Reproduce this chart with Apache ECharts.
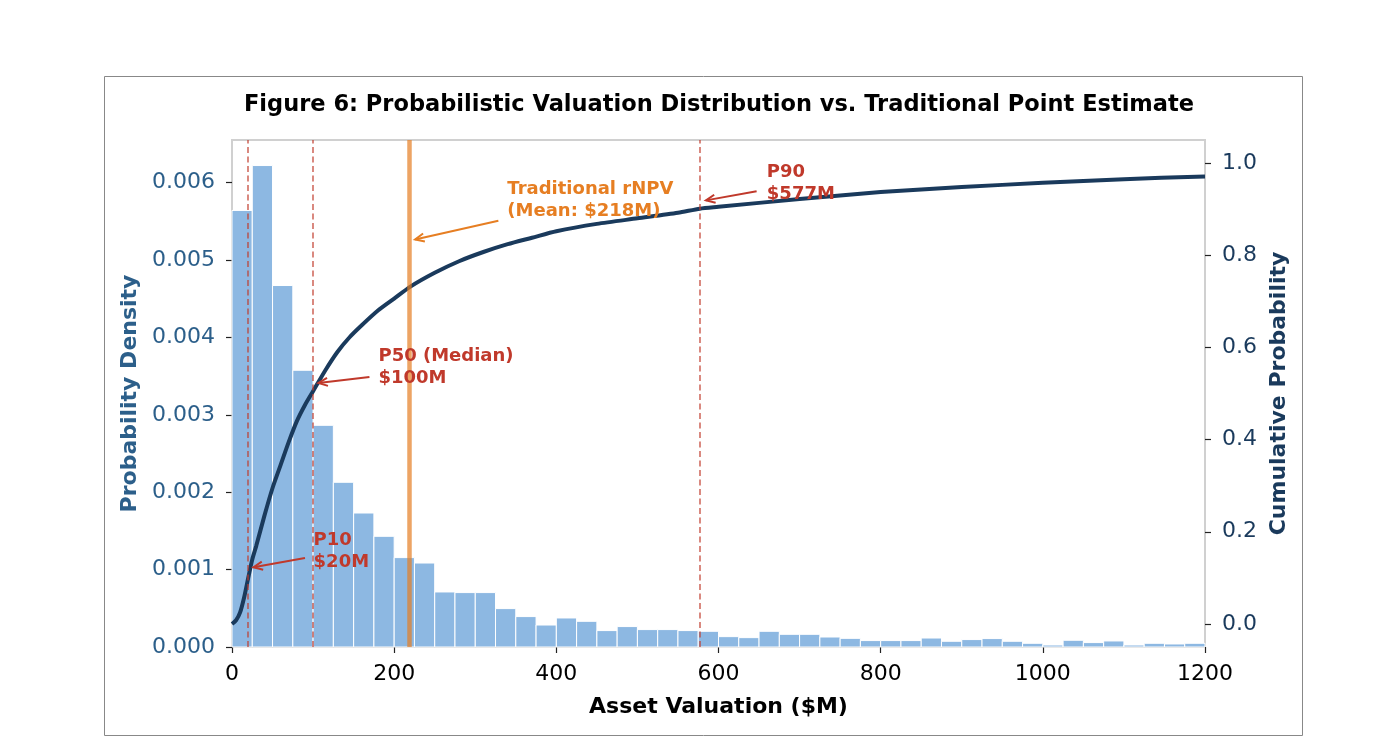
<!DOCTYPE html>
<html>
<head>
<meta charset="utf-8">
<script src="https://cdn.jsdelivr.net/npm/echarts@6/dist/echarts.min.js"></script>
<style>
  html, body { margin: 0; padding: 0; background: #fff; }
  #chart { width: 1400px; height: 736px; }
</style>
</head>
<body>
<div id="chart"></div>
<script>
// histogram bins (left edge, $M) - 25M wide
const binLeft = [0, 25, 50, 75, 100, 125, 150, 175, 200, 225, 250, 275, 300, 325, 350, 375,
  400, 425, 450, 475, 500, 525, 550, 575, 600, 625, 650, 675, 700, 725, 750, 775,
  800, 825, 850, 875, 900, 925, 950, 975, 1000, 1025, 1050, 1075, 1100, 1125, 1150, 1175];
const binWidth = 25;
// probability density per bin
const density = [0.00564, 0.00622, 0.00467, 0.003575, 0.002864, 0.002128, 0.001731, 0.00143,
  0.001155, 0.001085, 0.000711, 0.000703, 0.000703, 0.000496, 0.000393, 0.000284,
  0.000375, 0.000332, 0.000212, 0.000264, 0.000225, 0.000225, 0.000212, 0.000203,
  0.000134, 0.000121, 0.000203, 0.000164, 0.000164, 0.000129, 0.000112, 0.000083,
  0.000083, 0.000083, 0.000116, 0.000074, 0.000096, 0.000109, 0.000074, 0.000048,
  0.000026, 0.000087, 0.000057, 0.000078, 0.000026, 0.000048, 0.000039, 0.000048];

const cdfX = [0, 5, 10, 15, 20, 25, 30, 40, 50, 60, 70, 80, 90, 100, 115, 130, 145, 160, 180,
  200, 220, 250, 280, 310, 340, 370, 400, 450, 500, 550, 577, 600, 700, 800, 900, 1000, 1100, 1200];
const cdfY = [0.0, 0.008, 0.025, 0.058, 0.10, 0.14, 0.17, 0.235, 0.295, 0.345, 0.395, 0.44, 0.475,
  0.505, 0.55, 0.59, 0.622, 0.648, 0.68, 0.706, 0.732, 0.762, 0.787, 0.807, 0.824, 0.838, 0.852,
  0.868, 0.88, 0.892, 0.901, 0.905, 0.922, 0.937, 0.948, 0.957, 0.965, 0.971];

// percentile markers and traditional point estimate
const pctValues = [20, 100, 577];
const meanValue = 218;

// annotation text blocks: left x ($M), vertical centre (cumulative axis)
const annoText = ['P10\n$20M', 'P50 (Median)\n$100M', 'Traditional rNPV\n(Mean: $218M)', 'P90\n$577M'];
const annoX = [100, 180, 339, 659];
const annoY = [0.158, 0.556, 0.92, 0.955];
const annoKind = ['red', 'red', 'orange', 'red'];
// arrows: tail -> tip (x in $M, y on cumulative axis)
const arrowFrom = [[90, 0.143], [169.5, 0.536], [328.5, 0.875], [647, 0.939]];
const arrowTo = [[26.5, 0.123], [106.6, 0.523], [225.8, 0.834], [584.5, 0.919]];

const xTicks = [0, 200, 400, 600, 800, 1000, 1200];
const densityTicks = [0, 0.001, 0.002, 0.003, 0.004, 0.005, 0.006];
const cdfTicks = [0, 0.2, 0.4, 0.6, 0.8, 1.0];

const FONT = 'DejaVu Sans';
const RED = '#c0392b';
const ORANGE = '#e67e22';
const NAVY = '#1a3a5c';
const kindColor = { red: RED, orange: ORANGE };

const chart = echarts.init(document.getElementById('chart'));

const barData = binLeft.map((b, i) => [b, b + binWidth, density[i]]);
const cdfData = cdfX.map((x, i) => [x, cdfY[i]]);
const arrowData = arrowFrom.map((f, i) => [f[0], f[1], arrowTo[i][0], arrowTo[i][1]]);
const annoData = annoText.map((t, i) => ({
  value: [annoX[i], annoY[i]],
  label: { formatter: t, color: kindColor[annoKind[i]] }
}));

const option = {
  animation: false,
  backgroundColor: '#fff',
  textStyle: { fontFamily: FONT },
  title: {
    text: 'Figure 6: Probabilistic Valuation Distribution vs. Traditional Point Estimate',
    left: 714,
    top: 89,
    textAlign: 'center',
    textStyle: { fontFamily: FONT, fontSize: 22.5, fontWeight: 'bold', color: '#000' }
  },
  graphic: [{
    type: 'rect',
    shape: { x: 104.5, y: 76.5, width: 1198, height: 659 },
    style: { fill: null, stroke: '#888', lineWidth: 1 },
    silent: true,
    z: -10
  }],
  grid: {
    left: 232, right: 195, top: 140, bottom: 89,
    show: true, borderColor: '#d0d0d0', borderWidth: 2, backgroundColor: 'transparent'
  },
  xAxis: {
    type: 'value', min: 0, max: 1200, interval: 200,
    axisLine: { show: false },
    axisTick: { show: true, length: 6, customValues: xTicks, lineStyle: { color: '#222', width: 1.2 } },
    axisLabel: {
      fontSize: 22, color: '#000', margin: 16, fontFamily: FONT,
      customValues: xTicks, formatter: v => String(v)
    },
    splitLine: { show: false },
    name: 'Asset Valuation ($M)', nameLocation: 'middle', nameGap: 49,
    nameTextStyle: { fontSize: 22, fontWeight: 'bold', color: '#000', fontFamily: FONT }
  },
  yAxis: [{
    type: 'value', position: 'left', min: 0, max: 0.00655,
    axisLine: { show: false },
    axisTick: { show: true, length: 6, customValues: densityTicks, lineStyle: { color: '#222', width: 1.2 } },
    axisLabel: {
      fontSize: 22, color: '#2c5f8a', margin: 17, fontFamily: FONT,
      customValues: densityTicks, formatter: v => v.toFixed(3)
    },
    splitLine: { show: false },
    name: 'Probability Density', nameLocation: 'middle', nameGap: 91, nameRotate: 90,
    nameTextStyle: { fontSize: 22, fontWeight: 'bold', color: '#2c5f8a', fontFamily: FONT }
  }, {
    type: 'value', position: 'right', min: -0.05, max: 1.05,
    axisLine: { show: false },
    axisTick: { show: true, length: 6, customValues: cdfTicks, lineStyle: { color: '#222', width: 1.2 } },
    axisLabel: {
      fontSize: 22, color: NAVY, margin: 17, fontFamily: FONT,
      customValues: cdfTicks, formatter: v => v.toFixed(1)
    },
    splitLine: { show: false },
    name: 'Cumulative Probability', nameLocation: 'middle', nameGap: 61, nameRotate: 90,
    nameTextStyle: { fontSize: 22, fontWeight: 'bold', color: NAVY, fontFamily: FONT }
  }],
  series: [
    {
      name: 'Density',
      type: 'custom',
      xAxisIndex: 0, yAxisIndex: 0,
      encode: { x: [0, 1], y: 2 },
      data: barData,
      z: 1,
      renderItem: (params, api) => {
        const p0 = api.coord([api.value(0), api.value(2)]);
        const p1 = api.coord([api.value(1), 0]);
        return {
          type: 'rect',
          shape: { x: p0[0], y: p0[1], width: p1[0] - p0[0], height: p1[1] - p0[1] },
          style: { fill: '#8db8e2', stroke: '#ffffff', lineWidth: 1 }
        };
      }
    },
    {
      name: 'Reference lines',
      type: 'line',
      xAxisIndex: 0, yAxisIndex: 0,
      data: [],
      z: 2,
      markLine: {
        silent: true,
        symbol: 'none',
        label: { show: false },
        data: pctValues.map(v => ({
          xAxis: v,
          lineStyle: { color: RED, opacity: 0.75, width: 1.6, type: [6, 3.5] }
        })).concat([{
          xAxis: meanValue,
          lineStyle: { color: ORANGE, opacity: 0.7, width: 4.5, type: 'solid' }
        }])
      }
    },
    {
      name: 'CDF',
      type: 'line',
      xAxisIndex: 0, yAxisIndex: 1,
      data: cdfData,
      showSymbol: false,
      smooth: 0.25,
      lineStyle: { color: NAVY, width: 4 },
      z: 3
    },
    {
      name: 'Arrows',
      type: 'custom',
      xAxisIndex: 0, yAxisIndex: 1,
      encode: { x: [0, 2], y: [1, 3] },
      data: arrowData,
      z: 4,
      renderItem: (params, api) => {
        const a = api.coord([api.value(0), api.value(1)]);
        const b = api.coord([api.value(2), api.value(3)]);
        const ang = Math.atan2(b[1] - a[1], b[0] - a[0]);
        const h = 10, w = 0.42;
        const l = [b[0] - h * Math.cos(ang - w), b[1] - h * Math.sin(ang - w)];
        const r = [b[0] - h * Math.cos(ang + w), b[1] - h * Math.sin(ang + w)];
        const color = kindColor[annoKind[params.dataIndex]];
        return {
          type: 'group',
          children: [
            { type: 'line', shape: { x1: a[0], y1: a[1], x2: b[0], y2: b[1] },
              style: { stroke: color, lineWidth: 2 } },
            { type: 'polyline', shape: { points: [l, b, r] },
              style: { stroke: color, fill: null, lineWidth: 2 } }
          ]
        };
      }
    },
    {
      name: 'Annotations',
      type: 'scatter',
      xAxisIndex: 0, yAxisIndex: 1,
      data: annoData,
      symbolSize: 1,
      itemStyle: { color: 'rgba(0,0,0,0)', opacity: 1 },
      z: 5,
      label: {
        show: true,
        position: 'right',
        distance: 0,
        opacity: 1,
        fontFamily: FONT,
        fontSize: 18,
        fontWeight: 'bold',
        lineHeight: 22,
        align: 'left'
      }
    }
  ]
};

chart.setOption(option);
window.addEventListener('resize', () => chart.resize());
</script>
</body>
</html>
